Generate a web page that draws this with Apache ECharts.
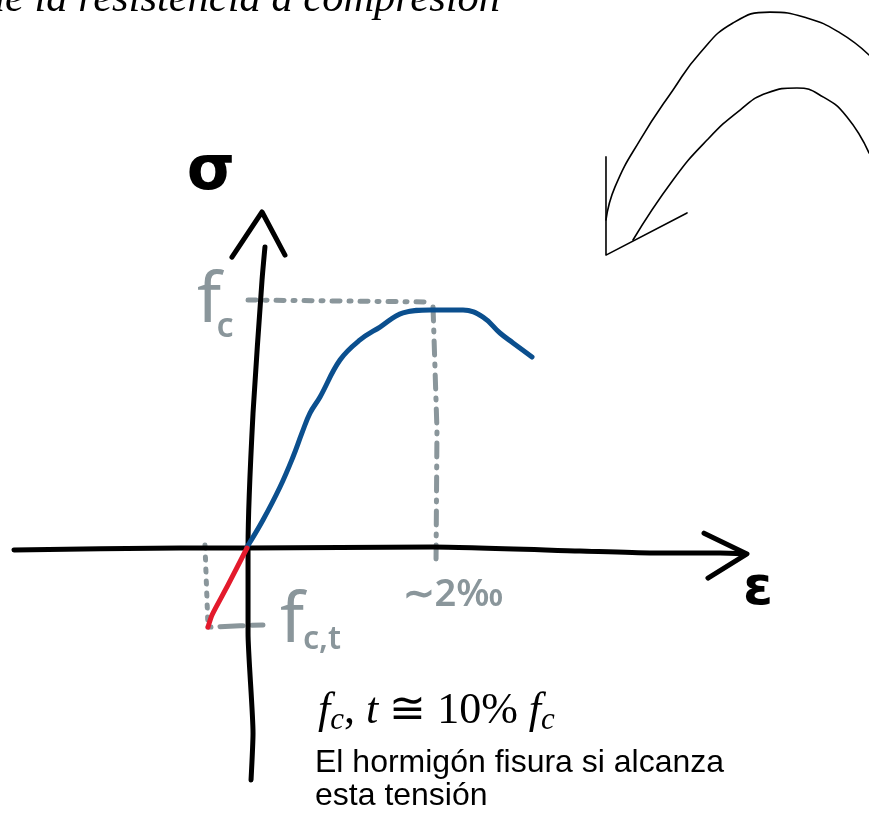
<!DOCTYPE html>
<html>
<head>
<meta charset="utf-8">
<script src="https://cdn.jsdelivr.net/npm/echarts@6/dist/echarts.min.js"></script>
<style>
  html, body { margin: 0; padding: 0; background: #fff; }
  #main { width: 869px; height: 813px; }
</style>
</head>
<body>
<div id="main"></div>
<script>
// x: deformación (‰), y: tensión / fc
const blueCurve = [[0, 0.004], [0.170, 0.113], [0.351, 0.246], [0.489, 0.367], [0.585, 0.464], [0.670, 0.544],
  [0.777, 0.609], [0.989, 0.758], [1.202, 0.839], [1.415, 0.891], [1.660, 0.948], [1.947, 0.960],
  [2.298, 0.960], [2.511, 0.931], [2.691, 0.867], [2.830, 0.827], [3.032, 0.770]]
const redLine = [[0, 0], [-0.213, -0.157], [-0.372, -0.270], [-0.415, -0.319]]

// ejes dibujados a mano
const epsAxis = [[-2.479, -0.008], [-0.713, 0], [0, 0], [1.979, 0.004], [3.543, -0.012], [4.287, -0.020], [5.032, -0.020], [5.298, -0.024]]
const epsArrow = [[4.862, 0.060], [5.319, -0.024], [4.904, -0.121]]
const sigmaAxis = [[0.043, -0.935], [0.064, -0.746], [0.011, -0.343], [0.011, 0.004], [0.064, 0.544], [0.160, 1.081], [0.191, 1.214]]
const sigmaArrow = [[-0.160, 1.173], [0.160, 1.355], [0.404, 1.181]]

// líneas de referencia grises
const fcLine = [[0.011, 1.0], [1.968, 0.992]]
const peakLine = [[1.979, 0.972], [2.021, 0.476], [2.011, -0.048]]
const fctDrop = [[-0.447, 0.012], [-0.415, -0.319]]
const fctLine = [[-0.415, -0.319], [0.170, -0.310]]

// flecha curva de arriba a la derecha
const outerArc = [[3.819, 1.323], [3.915, 1.456], [4.181, 1.645], [4.532, 1.847], [4.819, 1.996], [5.170, 2.117],
  [5.564, 2.161], [5.957, 2.137], [6.309, 2.077], [6.617, 1.988]]
const innerArc = [[4.106, 1.242], [4.532, 1.484], [4.894, 1.645], [5.245, 1.766], [5.532, 1.835], [5.851, 1.855],
  [6.128, 1.819], [6.383, 1.738], [6.617, 1.593]]
const arcHead = [[3.819, 1.577], [3.819, 1.181], [4.681, 1.351]]

const BLACK = '#000'
const GREY = '#8a969b'

const chart = echarts.init(document.getElementById('main'))

function stroke(data, color, width, opts) {
  return Object.assign({
    type: 'line',
    data: data,
    symbol: 'none',
    silent: true,
    lineStyle: { color: color, width: width, cap: 'round', join: 'round' }
  }, opts || {})
}

function dashed(data, pattern) {
  return stroke(data, GREY, 5, { lineStyle: { color: GREY, width: 5, cap: 'round', type: pattern } })
}

chart.setOption({
  animation: false,
  grid: { left: 0, right: 0, top: 0, bottom: 0 },
  xAxis: { type: 'value', min: -2.6277, max: 6.617, show: false },
  yAxis: { type: 'value', min: -1.0685, max: 2.2097, show: false },
  series: [
    dashed(fcLine, [8, 9, 2, 9]),
    dashed(peakLine, [14, 9, 2, 9]),
    dashed(fctDrop, [3, 9]),
    dashed(fctLine, [3, 9, 20, 0]),
    stroke(epsAxis, BLACK, 5, { smooth: 0.2 }),
    stroke(epsArrow, BLACK, 5),
    stroke(sigmaAxis, BLACK, 5, { smooth: 0.2 }),
    stroke(sigmaArrow, BLACK, 5),
    stroke(blueCurve, '#0b4f8e', 5, { smooth: 0.4 }),
    stroke(redLine, '#e31a2c', 5, { smooth: 0.2 }),
    stroke(outerArc, BLACK, 1.6, { smooth: 0.5 }),
    stroke(innerArc, BLACK, 1.6, { smooth: 0.5 }),
    stroke(arcHead, BLACK, 1.6)
  ],
  graphic: [
    { type: 'text', x: 500, y: 0, style: { text: 'de la resistencia a compresión', align: 'right', verticalAlign: 'middle',
      font: 'italic 42.5px "Liberation Serif"', fill: BLACK } },
    { type: 'text', x: 211, y: 173, style: { text: 'σ', align: 'center', verticalAlign: 'middle', font: '600 62px "DejaVu Sans"', fill: BLACK } },
    { type: 'text', x: 758, y: 590, style: { text: 'ε', align: 'center', verticalAlign: 'middle', font: '600 54px "DejaVu Sans"', fill: BLACK } },
    { type: 'text', x: 209, y: 302, style: { text: 'f', align: 'center', verticalAlign: 'middle', font: '70px "Noto Sans"', fill: GREY } },
    { type: 'text', x: 225, y: 327, style: { text: 'c', align: 'center', verticalAlign: 'middle', font: '600 34px "Noto Sans"', fill: GREY } },
    { type: 'text', x: 292, y: 622, style: { text: 'f', align: 'center', verticalAlign: 'middle', font: '70px "Noto Sans"', fill: GREY } },
    { type: 'text', x: 322, y: 640, style: { text: 'c,t', align: 'center', verticalAlign: 'middle', font: '600 32px "Noto Sans"', fill: GREY } },
    { type: 'text', x: 453, y: 595, style: { text: '∼2‰', align: 'center', verticalAlign: 'middle', font: '600 38px "Noto Sans"', fill: GREY } },
    { type: 'text', x: 318, y: 711, style: {
      text: '{f|f}{s|c}{n|, }{f|t}{n| ≅ 10% }{f|f}{s|c}',
      verticalAlign: 'middle',
      rich: {
        f: { font: 'italic 44px "Liberation Serif"', fill: BLACK, lineHeight: 50 },
        n: { font: '44px "Liberation Serif"', fill: BLACK, lineHeight: 50 },
        s: { font: 'italic 31px "Liberation Serif"', fill: BLACK, lineHeight: 38, verticalAlign: 'bottom' }
      }
    } },
    { type: 'text', x: 315, y: 747, style: { text: 'El hormigón fisura si alcanza\nesta tensión', verticalAlign: 'top',
      font: '32px "Liberation Sans"', lineHeight: 33, fill: BLACK } }
  ]
})
</script>
</body>
</html>
